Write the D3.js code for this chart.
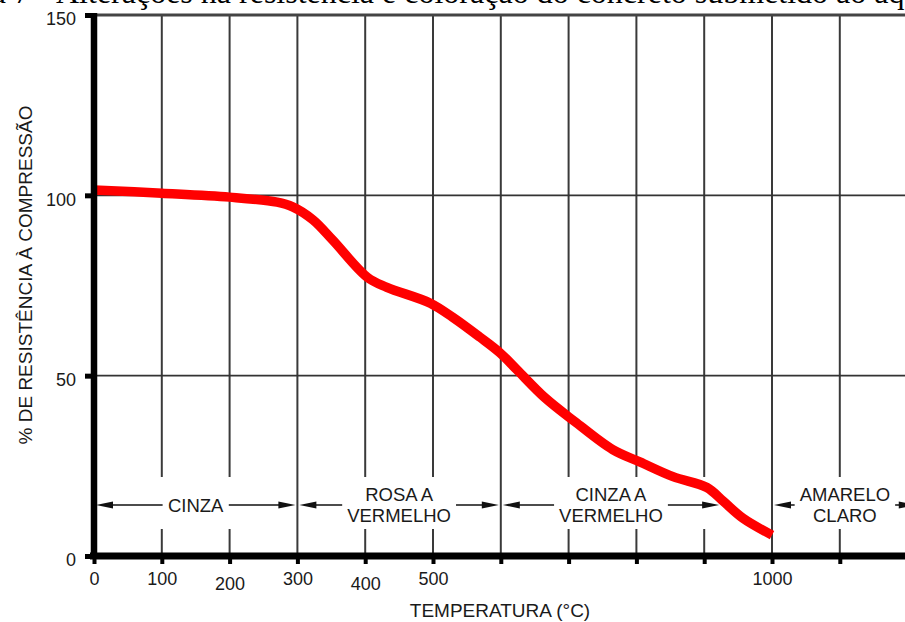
<!DOCTYPE html>
<html>
<head>
<meta charset="utf-8">
<script src="https://cdn.jsdelivr.net/npm/d3@7"></script>
<style>
  html, body { margin: 0; padding: 0; background: #ffffff; }
  svg { display: block; }
  text { font-family: "Liberation Sans", Arial, sans-serif; fill: #1a1a1a; }
</style>
</head>
<body>
<script>
// ---------------- DATA ----------------
const captionPrefix = "Figura 7 –";
const captionText = "Alterações na resistência e coloração do concreto submetido ao aquecimento";
const yTitle = "% DE RESISTÊNCIA À COMPRESSÃO";
const xTitle = "TEMPERATURA (°C)";

const temperatures = [0, 100, 200, 270, 293, 323, 352, 403, 432, 496, 529, 569, 599, 624, 665, 709, 765, 805, 854, 904, 928, 957, 1000];
const resistance   = [101.5, 100.6, 99.5, 98.1, 96.8, 93.2, 87.6, 77.3, 74.5, 70.1, 66.2, 60.7, 56.3, 51.6, 43.9, 37.3, 29.5, 26.1, 22.0, 19.0, 15.2, 10.5, 5.8];

const xGridValues = [100, 200, 300, 400, 500, 600, 700, 800, 900, 1000, 1100, 1200];
const xFullGrid = [300, 600, 1000];
const xTickValues = [0, 100, 200, 300, 400, 500, 600, 700, 800, 900, 1000, 1100, 1200];
const xTickLabels = [0, 100, 200, 300, 400, 500, 1000];
const yTickValues = [0, 50, 100, 150];
const yGridValues = [50, 100];

const bandLabels = [["CINZA"], ["ROSA A", "VERMELHO"], ["CINZA A", "VERMELHO"], ["AMARELO", "CLARO"]];
const bandFrom = [0, 300, 600, 1000];
const bandTo   = [300, 600, 925, 1215];

// ---------------- CHART ----------------
const W = 905, H = 622;
const svg = d3.select("body").append("svg").attr("width", W).attr("height", H);

const x = d3.scaleLinear().domain([0, 1000]).range([94, 772]);
const y = d3.scaleLinear().domain([0, 150]).range([556, 15]);

// caption cut off at top
svg.append("text")
  .attr("x", 56).attr("y", 2.5)
  .style("font-family", '"Liberation Serif", "Times New Roman", serif')
  .style("font-size", "32px")
  .style("fill", "#000")
  .text(captionText);
svg.append("text")
  .attr("x", 54).attr("y", 2.5)
  .attr("text-anchor", "end")
  .style("font-family", '"Liberation Serif", "Times New Roman", serif')
  .style("font-size", "32px")
  .style("fill", "#000")
  .text(captionPrefix);

const gapTop = 477, gapBottom = 529;

// vertical grid lines
const vg = svg.append("g");
xGridValues.forEach(v => {
  const xp = x(v);
  if (xFullGrid.includes(v)) {
    vg.append("line").attr("x1", xp).attr("x2", xp).attr("y1", y(150)).attr("y2", y(0))
      .attr("stroke", "#3a3a3a").attr("stroke-width", 2);
  } else {
    vg.append("line").attr("x1", xp).attr("x2", xp).attr("y1", y(150)).attr("y2", gapTop)
      .attr("stroke", "#3a3a3a").attr("stroke-width", 2);
    vg.append("line").attr("x1", xp).attr("x2", xp).attr("y1", gapBottom).attr("y2", y(0))
      .attr("stroke", "#3a3a3a").attr("stroke-width", 2);
  }
});

// horizontal grid lines
yGridValues.forEach(v => {
  svg.append("line").attr("x1", x(0)).attr("x2", W).attr("y1", y(v)).attr("y2", y(v))
    .attr("stroke", "#333").attr("stroke-width", 1.8);
});
// top border at 150
svg.append("line").attr("x1", x(0)).attr("x2", W).attr("y1", y(150)).attr("y2", y(150))
  .attr("stroke", "#444").attr("stroke-width", 3);

// band annotations
const bandG = svg.append("g");
const bandY = 505;
const headLen = 17, headHalf = 3.5;
bandLabels.forEach((lines, i) => {
  const x0 = x(bandFrom[i]) + 2, x1 = x(bandTo[i]) - 2;
  const cx = (x(bandFrom[i]) + x(bandTo[i])) / 2;
  const t = bandG.append("text").attr("text-anchor", "middle").style("font-size", "18.5px");
  const lh = 21;
  const startY = bandY - (lines.length - 1) * lh / 2;
  lines.forEach((ln, j) => {
    t.append("tspan").attr("x", cx).attr("y", startY + j * lh).attr("dy", "0.36em").text(ln);
  });
  const tw = t.node().getBBox().width;
  const gap = 5;
  bandG.append("line").attr("x1", x0 + headLen - 2).attr("x2", cx - tw / 2 - gap)
    .attr("y1", bandY).attr("y2", bandY).attr("stroke", "#111").attr("stroke-width", 1.5);
  bandG.append("line").attr("x1", cx + tw / 2 + gap).attr("x2", x1 - headLen + 2)
    .attr("y1", bandY).attr("y2", bandY).attr("stroke", "#111").attr("stroke-width", 1.5);
  bandG.append("path")
    .attr("d", `M${x0},${bandY} L${x0 + headLen},${bandY - headHalf} L${x0 + headLen},${bandY + headHalf} Z`)
    .attr("fill", "#111");
  bandG.append("path")
    .attr("d", `M${x1},${bandY} L${x1 - headLen},${bandY - headHalf} L${x1 - headLen},${bandY + headHalf} Z`)
    .attr("fill", "#111");
});

// red curve
const pts = temperatures.map((t, i) => [t, resistance[i]]);
const line = d3.line().x(d => x(d[0])).y(d => y(d[1])).curve(d3.curveCatmullRom.alpha(0.5));
svg.append("path").datum(pts).attr("d", line)
  .attr("fill", "none").attr("stroke", "#ff0000").attr("stroke-width", 9.5)
  .attr("stroke-linejoin", "round").attr("stroke-linecap", "butt");

// bottom axis
const xAxis = d3.axisBottom(x).tickValues(xTickValues).tickSize(8).tickPadding(8.5)
  .tickFormat(d => xTickLabels.includes(d) ? String(d) : "");
const gx = svg.append("g").attr("transform", `translate(0,${y(0)})`).call(xAxis);
gx.select(".domain").remove();
gx.selectAll(".tick line").attr("stroke", "#000").attr("stroke-width", 4);
gx.selectAll(".tick text").style("font-size", "18px").style("font-family", '"Liberation Sans", Arial, sans-serif')
  .attr("fill", "#1a1a1a")
  .attr("transform", d => (d === 200 || d === 400) ? "translate(0,5)" : null);
svg.append("line").attr("x1", x(0) - 4).attr("x2", W).attr("y1", y(0)).attr("y2", y(0))
  .attr("stroke", "#000").attr("stroke-width", 7);

// left axis
const yAxis = d3.axisLeft(y).tickValues(yTickValues).tickSize(9).tickPadding(9);
const gy = svg.append("g").attr("transform", `translate(${x(0)},0)`).call(yAxis);
gy.select(".domain").remove();
gy.selectAll(".tick line").attr("stroke", "#000").attr("stroke-width", 5);
gy.selectAll(".tick text").style("font-size", "18px").style("font-family", '"Liberation Sans", Arial, sans-serif')
  .attr("fill", "#1a1a1a").attr("dy", "0.55em");
svg.append("line").attr("x1", x(0)).attr("x2", x(0)).attr("y1", y(150) - 2).attr("y2", y(0) + 3)
  .attr("stroke", "#000").attr("stroke-width", 6.5);

// axis titles
svg.append("text")
  .attr("transform", `translate(25,${275}) rotate(-90)`)
  .attr("text-anchor", "middle").attr("dy", "0.36em")
  .style("font-size", "19px")
  .text(yTitle);
svg.append("text")
  .attr("x", 500).attr("y", 610).attr("dy", "0.36em")
  .attr("text-anchor", "middle")
  .style("font-size", "19px")
  .text(xTitle);
</script>
</body>
</html>
